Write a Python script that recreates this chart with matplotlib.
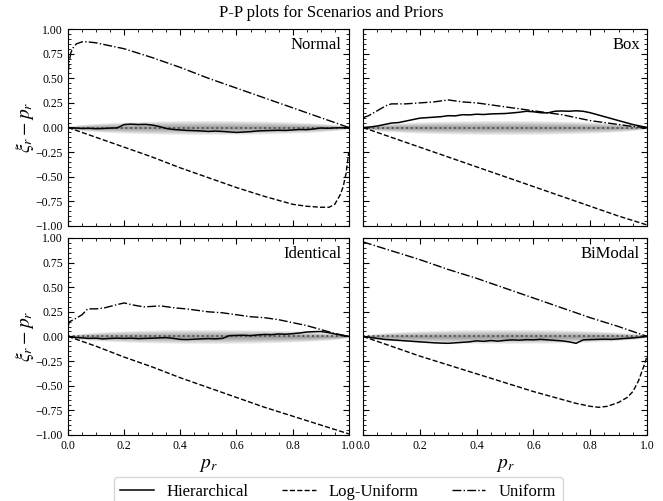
import numpy as np
import matplotlib
matplotlib.use("Agg")
import matplotlib.pyplot as plt
from matplotlib.ticker import MultipleLocator

plt.rcParams['font.family'] = ['Liberation Serif', 'DejaVu Serif']
plt.rcParams['mathtext.fontset'] = 'stix'

panels = ["Normal", "Box", "Identical", "BiModal"]
series_names = ["Hierarchical", "Log-Uniform", "Uniform"]

# Hierarchical curves on a regular grid of p_r
hier_x = np.linspace(0, 1, 41)
hier_normal = [0, -0.005, -0.01, -0.008, -0.012, -0.01, -0.006, -0.004, 0.03, 0.034,
               0.03, 0.032, 0.025, 0.01, -0.01, -0.02, -0.025, -0.03, -0.032, -0.035,
               -0.04, -0.036, -0.04, -0.045, -0.05, -0.046, -0.042, -0.035, -0.032, -0.03,
               -0.028, -0.03, -0.025, -0.02, -0.022, -0.015, -0.005, -0.008, -0.004, -0.002, 0]
hier_box = [0, 0.005, 0.015, 0.03, 0.045, 0.05, 0.065, 0.08, 0.095, 0.1,
            0.105, 0.11, 0.12, 0.118, 0.13, 0.128, 0.135, 0.132, 0.138, 0.14,
            0.142, 0.148, 0.155, 0.165, 0.16, 0.15, 0.148, 0.165, 0.168, 0.165,
            0.17, 0.165, 0.15, 0.13, 0.11, 0.09, 0.07, 0.05, 0.03, 0.015, 0]
hier_identical = [0, -0.01, -0.015, -0.02, -0.018, -0.025, -0.02, -0.018, -0.02, -0.018,
                  -0.022, -0.02, -0.018, -0.015, -0.012, -0.02, -0.03, -0.032, -0.028, -0.025,
                  -0.022, -0.025, -0.02, 0.008, 0.01, 0.012, 0.008, 0.015, 0.02, 0.018,
                  0.025, 0.022, 0.028, 0.035, 0.045, 0.048, 0.05, 0.04, 0.025, 0.012, 0]
hier_bimodal = [0, -0.01, -0.02, -0.03, -0.035, -0.04, -0.045, -0.05, -0.055, -0.06,
                -0.065, -0.068, -0.07, -0.065, -0.06, -0.055, -0.045, -0.05, -0.042, -0.048,
                -0.04, -0.035, -0.038, -0.033, -0.035, -0.03, -0.035, -0.04, -0.045, -0.055,
                -0.07, -0.035, -0.032, -0.03, -0.028, -0.03, -0.025, -0.02, -0.015, -0.008, 0]

# Log-Uniform curves
logu_normal_x = [0, 0.1, 0.2, 0.3, 0.4, 0.5, 0.6, 0.7, 0.75, 0.8, 0.85, 0.9, 0.93, 0.95, 0.97, 0.98, 0.99, 1.0]
logu_normal_y = [0, -0.1, -0.2, -0.3, -0.41, -0.51, -0.61, -0.70, -0.74, -0.78, -0.80, -0.81, -0.81, -0.78, -0.68, -0.60, -0.47, -0.25]
logu_box_x = [0, 0.1, 0.2, 0.3, 0.4, 0.5, 0.6, 0.7, 0.8, 0.9, 1.0]
logu_box_y = [0, -0.1, -0.2, -0.3, -0.4, -0.5, -0.6, -0.7, -0.8, -0.9, -0.99]
logu_identical_x = [0, 0.1, 0.2, 0.3, 0.4, 0.5, 0.6, 0.7, 0.8, 0.9, 1.0]
logu_identical_y = [0, -0.1, -0.21, -0.31, -0.42, -0.52, -0.62, -0.72, -0.81, -0.9, -0.99]
logu_bimodal_x = [0, 0.1, 0.2, 0.3, 0.4, 0.5, 0.6, 0.7, 0.75, 0.8, 0.83, 0.86, 0.9, 0.93, 0.95, 0.97, 0.98, 0.99, 1.0]
logu_bimodal_y = [0, -0.1, -0.2, -0.29, -0.38, -0.47, -0.56, -0.64, -0.68, -0.71, -0.72, -0.71, -0.67, -0.62, -0.56, -0.45, -0.37, -0.29, -0.20]

# Uniform curves
unif_normal_x = [0, 0.005, 0.01, 0.02, 0.03, 0.05, 0.07, 0.1, 0.15, 0.2, 0.3, 0.4, 0.5, 0.6, 0.7, 0.8, 0.9, 1.0]
unif_normal_y = [0.55, 0.68, 0.76, 0.82, 0.85, 0.87, 0.87, 0.86, 0.83, 0.80, 0.71, 0.61, 0.50, 0.40, 0.30, 0.20, 0.10, 0.0]
unif_box_x = [0, 0.02, 0.05, 0.08, 0.1, 0.15, 0.2, 0.25, 0.3, 0.35, 0.4, 0.5, 0.6, 0.7, 0.8, 0.9, 0.95, 1.0]
unif_box_y = [0.10, 0.12, 0.17, 0.22, 0.24, 0.24, 0.25, 0.26, 0.28, 0.26, 0.25, 0.21, 0.17, 0.13, 0.07, 0.03, 0.01, 0.0]
unif_identical_x = [0, 0.005, 0.02, 0.05, 0.07, 0.1, 0.13, 0.17, 0.2, 0.23, 0.27, 0.33, 0.38, 0.42, 0.5,
                    0.55, 0.6, 0.65, 0.7, 0.75, 0.8, 0.85, 0.9, 0.95, 1.0]
unif_identical_y = [0.10, 0.15, 0.17, 0.22, 0.28, 0.28, 0.29, 0.32, 0.34, 0.32, 0.30, 0.31, 0.29, 0.28, 0.25,
                    0.24, 0.22, 0.20, 0.19, 0.17, 0.14, 0.11, 0.07, 0.03, 0.0]
unif_bimodal_x = [0, 0.1, 0.2, 0.3, 0.4, 0.5, 0.6, 0.7, 0.8, 0.9, 1.0]
unif_bimodal_y = [0.96, 0.87, 0.78, 0.68, 0.59, 0.49, 0.39, 0.29, 0.19, 0.10, 0.0]

hier = [hier_normal, hier_box, hier_identical, hier_bimodal]
logu = [(logu_normal_x, logu_normal_y), (logu_box_x, logu_box_y),
        (logu_identical_x, logu_identical_y), (logu_bimodal_x, logu_bimodal_y)]
unif = [(unif_normal_x, unif_normal_y), (unif_box_x, unif_box_y),
        (unif_identical_x, unif_identical_y), (unif_bimodal_x, unif_bimodal_y)]

# confidence band (binomial approximation)
n_samples = 450
z_levels = [0.5, 1.0, 1.5, 2.0, 2.5, 3.0]
pb = np.linspace(0, 1, 201)

fig = plt.figure(figsize=(6.63, 5.01), dpi=100)
lefts = [0.1026, 0.5475]
width = [0.4235, 0.4285]
bottoms = [0.549, 0.132]
height = 0.393

axes = []
for i in range(4):
    r, c = divmod(i, 2)
    ax = fig.add_axes([lefts[c], bottoms[r], width[c], height])
    axes.append(ax)
    for z in z_levels:
        hw = z * np.sqrt(pb * (1 - pb) / n_samples)
        ax.fill_between(pb, -hw, hw, color='k', alpha=0.075, lw=0)
    ax.axhline(0, color='0.3', ls=':', lw=1.3)
    l1, = ax.plot(hier_x, hier[i], 'k-', lw=1.1)
    l2, = ax.plot(logu[i][0], logu[i][1], 'k--', lw=1.0)
    l3, = ax.plot(unif[i][0], unif[i][1], 'k-.', lw=1.0)
    ax.set_xlim(0, 1)
    ax.set_ylim(-1, 1)
    ax.xaxis.set_major_locator(MultipleLocator(0.2))
    ax.xaxis.set_minor_locator(MultipleLocator(0.05))
    ax.yaxis.set_major_locator(MultipleLocator(0.25))
    ax.yaxis.set_minor_locator(MultipleLocator(0.05))
    ax.tick_params(which='both', direction='in', top=True, right=True, labelsize=8.5)
    ax.tick_params(which='major', length=4)
    ax.tick_params(which='minor', length=2)
    ax.text(0.975, 0.96, panels[i], transform=ax.transAxes, ha='right', va='top', fontsize=12)
    if r == 0:
        ax.tick_params(labelbottom=False)
    else:
        ax.set_xlabel(r'$p_r$', fontsize=14)
    if c == 1:
        ax.tick_params(labelleft=False)
    else:
        ax.set_ylabel(r'$\xi_r - p_r$', fontsize=14, labelpad=0)
    ax.xaxis.set_major_formatter(matplotlib.ticker.FormatStrFormatter('%.1f'))
    ax.yaxis.set_major_formatter(matplotlib.ticker.FuncFormatter(lambda v, p: f"{v:.2f}".replace('-', '\u2212')))

fig.suptitle("P-P plots for Scenarios and Priors", fontsize=12, y=0.99)
fig.legend([l1, l2, l3], series_names, loc='lower center', ncol=3,
           bbox_to_anchor=(0.51, -0.028), fontsize=12, frameon=True,
           handlelength=2.0, columnspacing=2.0)
fig.savefig("out.png", dpi=100)
